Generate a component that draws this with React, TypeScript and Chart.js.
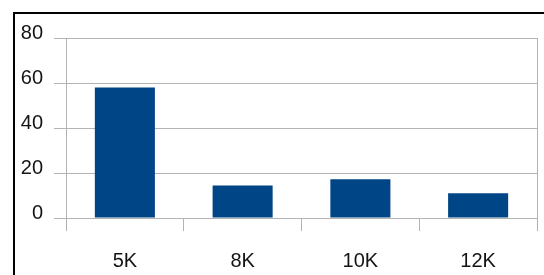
import React, { useEffect, useRef } from "react";
import { Chart, registerables } from "chart.js";

Chart.register(...registerables);

const categories = ["5K", "8K", "10K", "12K"];
const values = [58, 14.4, 17.2, 11];
const yTicks = [0, 20, 40, 60, 80];

const GRID = "#b3b3b3";
const TEXT = "#141414";
const BAR = "#004586";

export default function App() {
  const ref = useRef<HTMLCanvasElement | null>(null);

  useEffect(() => {
    document.body.style.margin = "0";
    const canvas = ref.current;
    if (!canvas) return;
    const chart = new Chart(canvas, {
      type: "bar",
      data: {
        labels: categories,
        datasets: [
          {
            data: values,
            backgroundColor: BAR,
            borderWidth: 0,
            barPercentage: 1,
            categoryPercentage: 0.51,
          },
        ],
      },
      options: {
        animation: false,
        responsive: false,
        devicePixelRatio: 1,
        layout: { padding: { top: 38, right: 7, left: 0, bottom: 0 } },
        plugins: { legend: { display: false }, title: { display: false }, tooltip: { enabled: false } },
        scales: {
          x: {
            grid: {
              offset: true,
              color: (ctx: any) => (ctx.type !== "tick" || ctx.index === 0 ? GRID : "rgba(0,0,0,0)"),
              tickColor: GRID,
              tickLength: 13,
              lineWidth: 1,
            },
            border: { display: true, color: GRID },
            ticks: {
              font: { family: "'Liberation Sans', Arial, sans-serif", size: 20 },
              color: TEXT,
              padding: 18,
              maxRotation: 0,
            },
            afterFit: (scale: any) => {
              scale.height = 57;
            },
          },
          y: {
            min: 0,
            max: 80,
            afterBuildTicks: (scale: any) => {
              scale.ticks = yTicks.map((v) => ({ value: v }));
            },
            grid: { color: GRID, tickColor: GRID, tickLength: 12, lineWidth: 1 },
            border: { display: true, color: GRID },
            ticks: {
              font: { family: "'Liberation Sans', Arial, sans-serif", size: 20 },
              color: TEXT,
              padding: 11,
              labelOffset: -5,
            },
            afterFit: (scale: any) => {
              scale.width = 66;
            },
          },
        },
      },
    });
    return () => chart.destroy();
  }, []);

  return (
    <div
      style={{
        position: "fixed",
        left: 0,
        top: 0,
        width: 544,
        height: 275,
        overflow: "hidden",
        background: "#fff",
      }}
    >
      <canvas
        ref={ref}
        width={544}
        height={275}
        style={{ position: "absolute", left: 0, top: 0, width: 544, height: 275 }}
      />
      <div
        style={{
          position: "absolute",
          left: 13,
          top: 12,
          width: 700,
          height: 500,
          border: "2px solid #000",
          boxSizing: "border-box",
          pointerEvents: "none",
        }}
      />
    </div>
  );
}
